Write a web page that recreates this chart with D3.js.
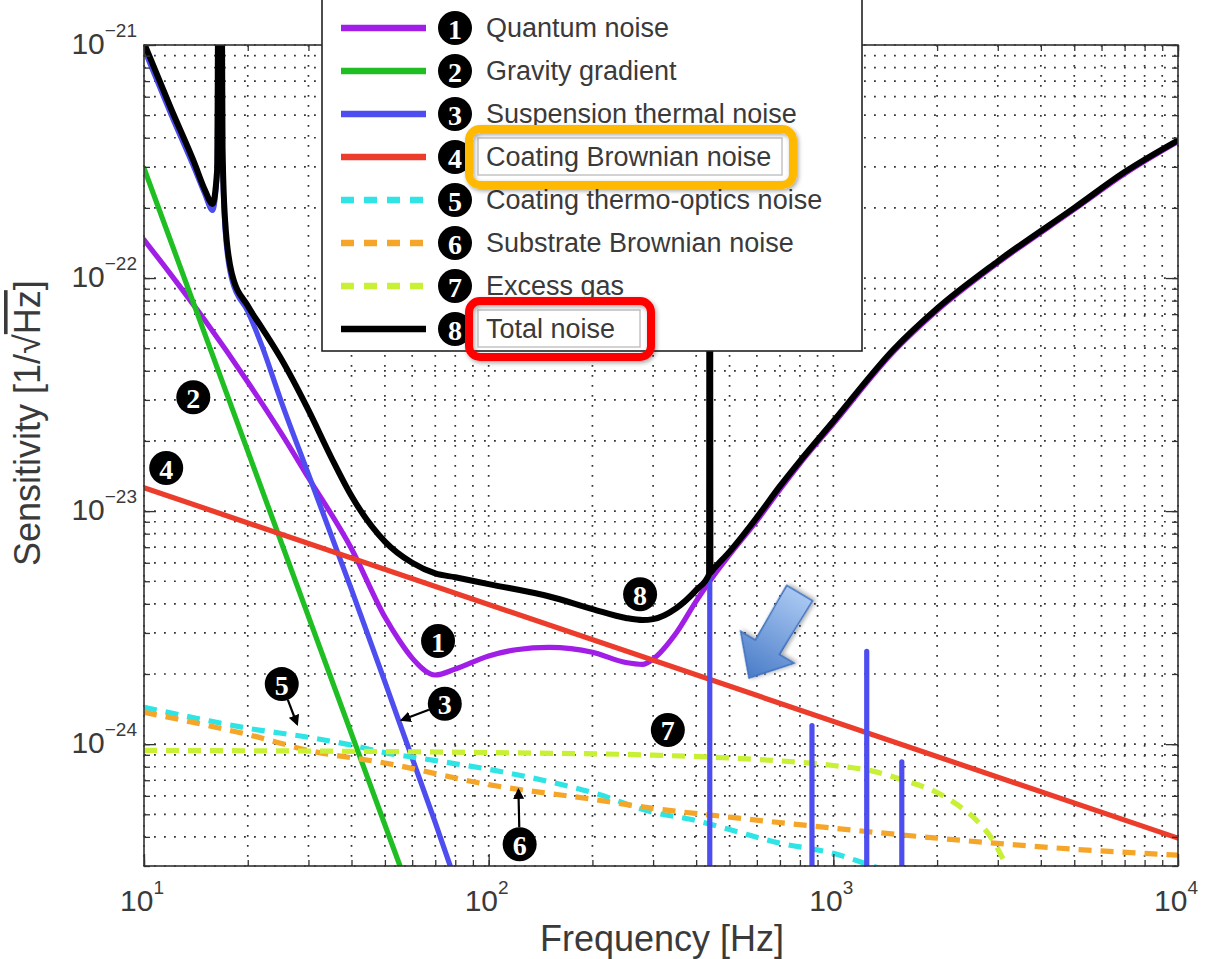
<!DOCTYPE html>
<html lang="en">
<head>
<meta charset="UTF-8">
<title>Noise budget</title>
<script src="https://cdn.jsdelivr.net/npm/d3@7/dist/d3.min.js"></script>
<style>
  body { margin: 0; background: #fff; }
  svg { display: block; }
  text { font-family: "Liberation Sans", Arial, sans-serif; fill: #3a3a3a; }
  .grid line { stroke: #333; stroke-width: 1.7; stroke-dasharray: 1.8,8.2; }
  .curve { fill: none; stroke-linejoin: round; stroke-linecap: round; }
  .curve.dashed { stroke-dasharray: 13,9; stroke-linecap: butt; }
  .axis path { display: none; }
  .axis line { stroke: #333; stroke-width: 1.3; }
  .badge circle { fill: #000; }
  .badge text { fill: #fff; font-family: "Liberation Serif", serif; font-weight: bold; font-size: 28px; text-anchor: middle; dominant-baseline: central; }
</style>
</head>
<body>
<script>
// axes
var freqDomain = [10, 1e4];
var freqTicks = [10, 100, 1000, 10000];
var freqTickExp = ["1", "2", "3", "4"];
var sensDomain = [3e-25, 1e-21];
var sensTicks = [1e-21, 1e-22, 1e-23, 1e-24];
var sensTickExp = ["\u221221", "\u221222", "\u221223", "\u221224"];

// noise curves, [frequency Hz, sensitivity 1/sqrt(Hz)]
var quantumNoise = [[10,1.46e-22],[12,1.03e-22],[15,6.6e-23],[20,3.58e-23],[25,2.16e-23],[30,1.39e-23],
  [40,6.9e-24],[50,3.51e-24],[55,2.79e-24],[60,2.34e-24],[70,1.98e-24],[80,2.1e-24],[100,2.39e-24],
  [120,2.54e-24],[150,2.6e-24],[200,2.48e-24],[250,2.24e-24],[280,2.2e-24],[300,2.32e-24],[350,3.0e-24],
  [400,4.11e-24],[450,5.3e-24],[500,6.5e-24],[600,9.1e-24],[700,1.24e-23],[800,1.6e-23],[1000,2.37e-23],
  [1500,4.85e-23],[2000,7.25e-23],[3000,1.16e-22],[5000,1.97e-22],[7000,2.8e-22],[10000,3.85e-22]];
var gravityGradient = [[10,2.96e-22],[55.3,3.0e-25]];
var suspensionThermal = [[10,9.6e-22],[12,5.0e-22],[14,2.95e-22],[15,2.3e-22],[15.8,1.95e-22],[16.3,2.8e-22],
  [16.6,1e-19],[16.9,3.4e-22],[17.2,1.6e-22],[18,9.8e-23],[20,7.2e-23],[22,5.1e-23],[25,2.96e-23],[30,1.44e-23],
  [40,4.6e-24],[50,1.85e-24],[60,8.7e-25],[70,4.6e-25],[80,2.6e-25]];
var violinModes = [[438,1e-19],[867,1.2e-24],[1250,2.5e-24],[1580,8.4e-25]];
var coatingBrownian = [[10,1.26e-23],[10000,3.95e-25]];
var coatingThermoOptic = [[10,1.44e-24],[15,1.27e-24],[20,1.17e-24],[30,1.07e-24],[40,9.9e-25],[50,9.2e-25],
  [70,8.5e-25],[100,7.8e-25],[150,6.9e-25],[200,6.2e-25],[300,5.1e-25],[400,4.7e-25],[500,4.3e-25],
  [700,3.76e-25],[1000,3.4e-25],[1300,3.0e-25],[1500,2.8e-25]];
var substrateBrownian = [[10,1.37e-24],[15,1.21e-24],[20,1.1e-24],[30,9.4e-25],[50,8.3e-25],[100,6.7e-25],
  [200,5.8e-25],[300,5.3e-25],[500,4.86e-25],[1000,4.36e-25],[2000,3.95e-25],[5000,3.54e-25],[10000,3.34e-25]];
var excessGas = [[10,9.4e-25],[100,9.2e-25],[300,8.97e-25],[600,8.6e-25],[1000,8.1e-25],[1300,7.66e-25],
  [1600,7.0e-25],[2000,6.2e-25],[2300,5.47e-25],[2600,4.72e-25],[2900,3.88e-25],[3100,3.24e-25],[3250,2.8e-25]];
var totalNoise = [[10,1.02e-21],[12,5.3e-22],[14,3.12e-22],[15,2.4e-22],[15.8,2.08e-22],[16.3,2.9e-22],
  [16.6,1e-19],[16.9,3.6e-22],[17.2,1.75e-22],[18,1.04e-22],[20,7.6e-23],[22,6.1e-23],[25,4.5e-23],
  [30,2.71e-23],[35,1.69e-23],[40,1.16e-23],[50,7.4e-24],[60,6.0e-24],[70,5.4e-24],[80,5.2e-24],
  [100,4.86e-24],[150,4.3e-24],[200,3.8e-24],[250,3.48e-24],[280,3.41e-24],[300,3.44e-24],[350,3.83e-24],
  [400,4.58e-24],[436,5.35e-24],[438,1e-19],[440,5.45e-24],[450,5.66e-24],[500,6.7e-24],[600,9.4e-24],
  [700,1.28e-23],[800,1.64e-23],[1000,2.43e-23],[1500,4.96e-23],[2000,7.4e-23],[3000,1.18e-22],
  [5000,2.0e-22],[7000,2.85e-22],[10000,3.9e-22]];

var seriesNames = ["Quantum noise", "Gravity gradient", "Suspension thermal noise", "Coating Brownian noise",
  "Coating thermo-optics noise", "Substrate Brownian noise", "Excess gas", "Total noise"];

// numbered markers in the plot, and small pointer arrows
var badgeLabels = ["1", "2", "3", "4", "5", "6", "7", "8"];
var badgeFreq = [71.3, 13.9, 74.6, 11.6, 25.1, 123, 331, 275];
var badgeSens = [2.77e-24, 3.08e-23, 1.49e-24, 1.53e-23, 1.81e-24, 3.72e-25, 1.15e-24, 4.4e-24];
var pointerBadge = ["3", "5", "6"];
var pointerTip = [[56.0,1.27e-24],[27.8,1.22e-24],[122,6.35e-25]];
var calloutTip = [569, 1.92e-24];

var W = 1206, H = 959;
var plot = {left: 144, top: 45, right: 1178, bottom: 866};

var x = d3.scaleLog().domain(freqDomain).range([plot.left, plot.right]);
var y = d3.scaleLog().domain(sensDomain).range([plot.bottom, plot.top]);

var svg = d3.select("body").append("svg").attr("width", W).attr("height", H);
var defs = svg.append("defs");
defs.append("clipPath").attr("id", "plotClip").append("rect")
  .attr("x", plot.left).attr("y", plot.top)
  .attr("width", plot.right - plot.left).attr("height", plot.bottom - plot.top);
defs.append("marker").attr("id", "tip").attr("viewBox", "0 0 10 10")
  .attr("refX", 8).attr("refY", 5).attr("markerWidth", 5).attr("markerHeight", 5)
  .attr("orient", "auto")
  .append("path").attr("d", "M0,0L10,5L0,10z").attr("fill", "#000");
var grad = defs.append("linearGradient").attr("id", "arrowFill")
  .attr("x1", "100%").attr("y1", "0%").attr("x2", "0%").attr("y2", "0%");
grad.append("stop").attr("offset", "0%").attr("stop-color", "#a9c8f2");
grad.append("stop").attr("offset", "100%").attr("stop-color", "#4a7cc8");
var shadow = defs.append("filter").attr("id", "soft").attr("x", "-20%").attr("y", "-20%").attr("width", "140%").attr("height", "140%");
shadow.append("feDropShadow").attr("dx", 1.5).attr("dy", 2).attr("stdDeviation", 2).attr("flood-color", "#000").attr("flood-opacity", 0.35);

// grid
var minorX = [], minorY = [];
[10, 100, 1000].forEach(function(d){ for (var k = 1; k < 10; k++) minorX.push(d * k); });
minorX.push(10000);
[1e-25, 1e-24, 1e-23, 1e-22].forEach(function(d){
  for (var k = 1; k < 10; k++) {
    var v = d * k;
    if (v >= sensDomain[0] * 0.999 && v <= sensDomain[1] * 1.001) minorY.push(v);
  }
});
minorY.push(1e-21);

var grid = svg.append("g").attr("class", "grid");
grid.selectAll("line.gx").data(minorX).enter().append("line").attr("class", "gx")
  .attr("x1", function(d){ return x(d); }).attr("x2", function(d){ return x(d); })
  .attr("y1", plot.top).attr("y2", plot.bottom);
grid.selectAll("line.gy").data(minorY).enter().append("line").attr("class", "gy")
  .attr("y1", function(d){ return y(d); }).attr("y2", function(d){ return y(d); })
  .attr("x1", plot.left).attr("x2", plot.right);

// curves
var series = [
  {name: seriesNames[0], data: quantumNoise, color: "#a01ee6", dashed: false},
  {name: seriesNames[1], data: gravityGradient, color: "#1fbf24", dashed: false},
  {name: seriesNames[2], data: suspensionThermal, color: "#4d4df0", dashed: false},
  {name: seriesNames[3], data: coatingBrownian, color: "#ec3d2c", dashed: false},
  {name: seriesNames[4], data: coatingThermoOptic, color: "#2fe4e4", dashed: true},
  {name: seriesNames[5], data: substrateBrownian, color: "#f5a628", dashed: true},
  {name: seriesNames[6], data: excessGas, color: "#c8f034", dashed: true},
  {name: seriesNames[7], data: totalNoise, color: "#000000", dashed: false}
];

var line = d3.line()
  .x(function(d){ return x(d[0]); })
  .y(function(d){ return y(d[1]); })
  .curve(d3.curveMonotoneX);

var curves = svg.append("g").attr("clip-path", "url(#plotClip)");
series.forEach(function(s, i){
  if (i === 7) {
    // violin modes of the suspension, drawn before the total
    curves.selectAll("line.violin").data(violinModes).enter().append("line")
      .attr("class", "violin")
      .attr("x1", function(d){ return x(d[0]); }).attr("x2", function(d){ return x(d[0]); })
      .attr("y1", y(sensDomain[0]) + 6).attr("y2", function(d){ return y(d[1]); })
      .attr("stroke", series[2].color).attr("stroke-width", 5.2).attr("stroke-linecap", "round");
  }
  curves.append("path")
    .attr("class", "curve" + (s.dashed ? " dashed" : ""))
    .attr("d", line(s.data))
    .attr("stroke", s.color)
    .attr("stroke-width", i === 7 ? 6 : 5.2);
});

// axes, ticks inside like matlab
var majorX = freqTicks, majorY = sensTicks;
function tickLayer(gen, tx, ty, vals, size) {
  svg.append("g").attr("class", "axis").attr("transform", "translate(" + tx + "," + ty + ")")
    .call(gen.tickValues(vals).tickSize(size).tickSizeOuter(0).tickFormat(""));
}
tickLayer(d3.axisBottom(x), 0, plot.bottom, minorX, -6);
tickLayer(d3.axisBottom(x), 0, plot.bottom, majorX, -12);
tickLayer(d3.axisTop(x), 0, plot.top, minorX, -6);
tickLayer(d3.axisTop(x), 0, plot.top, majorX, -12);
tickLayer(d3.axisLeft(y), plot.left, 0, minorY, -6);
tickLayer(d3.axisLeft(y), plot.left, 0, majorY, -12);
tickLayer(d3.axisRight(y), plot.right, 0, minorY, -6);
tickLayer(d3.axisRight(y), plot.right, 0, majorY, -12);

svg.append("rect")
  .attr("x", plot.left).attr("y", plot.top)
  .attr("width", plot.right - plot.left).attr("height", plot.bottom - plot.top)
  .attr("fill", "none").attr("stroke", "#333").attr("stroke-width", 1.6);

// tick labels 10^n
function powLabel(t, exp) {
  t.append("tspan").text("10");
  t.append("tspan").attr("dy", -17).attr("font-size", 19).text(exp);
}
freqTicks.forEach(function(v, i){
  var t = svg.append("text").attr("x", x(v) - 2).attr("y", 911)
    .attr("text-anchor", "middle").attr("font-size", 30);
  powLabel(t, freqTickExp[i]);
});
sensTicks.forEach(function(v, i){
  var t = svg.append("text").attr("x", 137).attr("y", y(v) + 9)
    .attr("text-anchor", "end").attr("font-size", 30);
  powLabel(t, sensTickExp[i]);
});

// axis titles
svg.append("text").attr("x", 662).attr("y", 951).attr("text-anchor", "middle")
  .attr("font-size", 36).text("Frequency [Hz]");
var yl = svg.append("text").attr("transform", "translate(40,566) rotate(-90)")
  .attr("text-anchor", "start").attr("font-size", 36);
yl.append("tspan").text("Sensitivity [1/\u221A");
yl.append("tspan").style("text-decoration", "overline").text("Hz");
yl.append("tspan").text("]");

// numbered badges
function badge(g, cx, cy, label) {
  var b = g.append("g").attr("class", "badge").attr("transform", "translate(" + cx + "," + cy + ")");
  b.append("circle").attr("r", 17);
  b.append("text").attr("y", 1).text(label);
}
var ann = svg.append("g");
pointerBadge.forEach(function(lbl, i){
  var k = badgeLabels.indexOf(lbl);
  var cx = x(badgeFreq[k]), cy = y(badgeSens[k]);
  var tx = x(pointerTip[i][0]), ty = y(pointerTip[i][1]);
  var dx = tx - cx, dy = ty - cy, len = Math.sqrt(dx * dx + dy * dy);
  ann.append("line")
    .attr("x1", cx + dx / len * 17).attr("y1", cy + dy / len * 17)
    .attr("x2", tx).attr("y2", ty)
    .attr("stroke", "#000").attr("stroke-width", 2.2).attr("marker-end", "url(#tip)");
});
badgeLabels.forEach(function(lbl, i){
  badge(ann, x(badgeFreq[i]), y(badgeSens[i]), lbl);
});

// legend
var lg = svg.append("g");
lg.append("rect").attr("x", 322).attr("y", -6).attr("width", 540).attr("height", 357)
  .attr("fill", "#fff").attr("stroke", "#222").attr("stroke-width", 1.6);
var rowY = function(i){ return 28 + i * 43; };
series.forEach(function(s, i){
  var r = lg.append("g").attr("transform", "translate(0," + rowY(i) + ")");
  r.append("line").attr("x1", 341).attr("x2", 426).attr("y1", 0).attr("y2", 0)
    .attr("stroke", s.color).attr("stroke-width", 6.5)
    .attr("stroke-dasharray", s.dashed ? "13,10" : null);
  badge(r, 455, 0, String(i + 1));
  r.append("text").attr("x", 486).attr("y", 0).attr("dominant-baseline", "central")
    .attr("font-size", 27).attr("fill", "#3d3d3d").text(s.name);
});

// highlight boxes on two legend entries
function highlight(i, width, color) {
  var cy = rowY(i);
  lg.append("rect").attr("x", 478).attr("y", cy - 19).attr("width", width - 20).attr("height", 37)
    .attr("fill", "none").attr("stroke", "#c4c4c4").attr("stroke-width", 1.5);
  lg.append("rect").attr("x", 469).attr("y", cy - 28).attr("width", width).attr("height", 56)
    .attr("rx", 11).attr("fill", "none").attr("stroke", color).attr("stroke-width", 8)
    .attr("filter", "url(#soft)");
}
highlight(3, 324, "#ffb900");
highlight(7, 182, "#ff0000");

// blue callout arrow
var ax = x(calloutTip[0]), ay = y(calloutTip[1]);
svg.append("polygon")
  .attr("points", "0,0 36,-31 36,-14 99,-15 99,15 36,14 36,31")
  .attr("transform", "translate(" + ax + "," + ay + ") rotate(-59.2)")
  .attr("fill", "url(#arrowFill)").attr("stroke", "#3d6fbd").attr("stroke-width", 1.5)
  .attr("filter", "url(#soft)");
</script>
</body>
</html>
